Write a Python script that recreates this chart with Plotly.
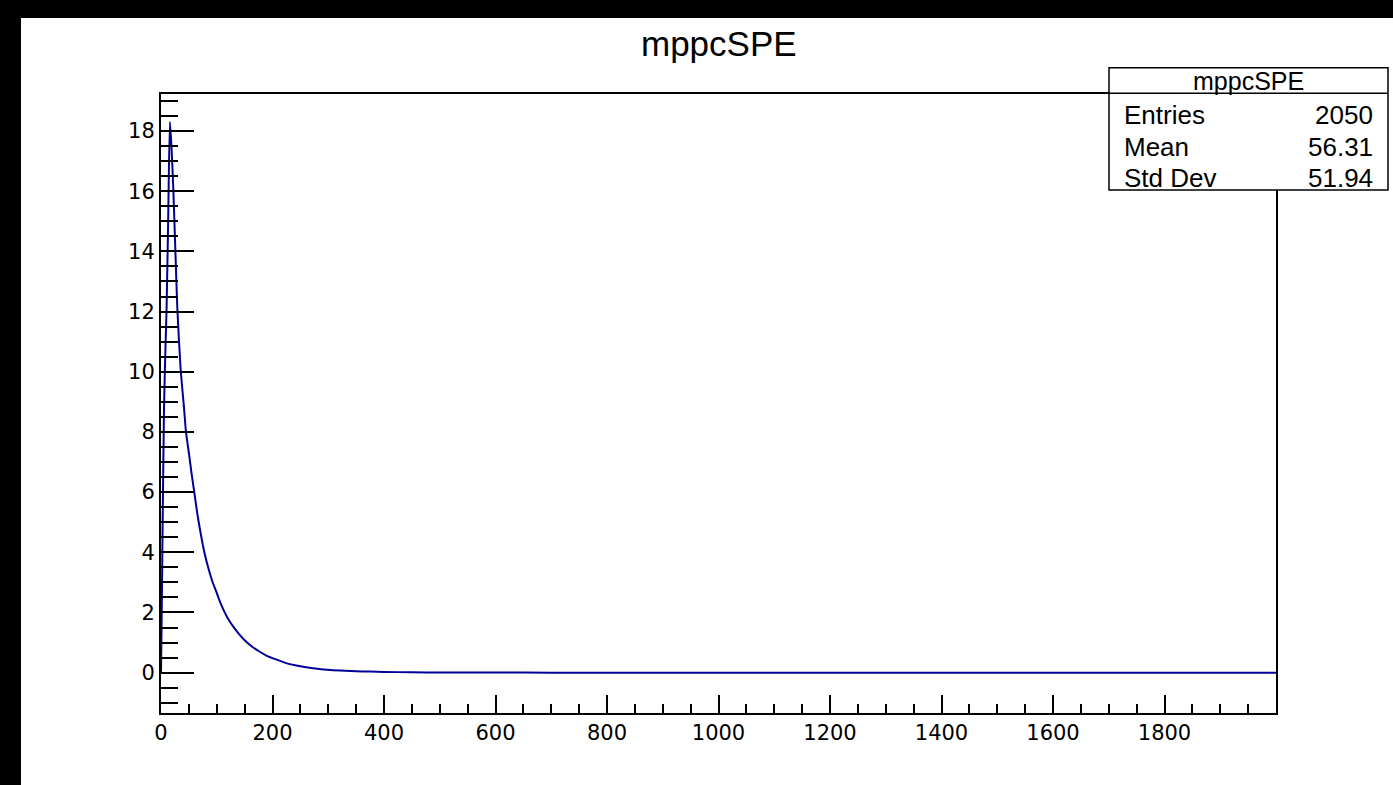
import plotly.graph_objects as go

# mppcSPE histogram, sampled along the drawn curve
bin_x = [0, 1, 2.4, 5.4, 8, 10, 13, 16, 19, 22, 26, 29.3, 35.2, 41.3, 44.8,
         50, 55, 59.7, 65, 70, 77.7, 85, 92, 100, 107, 113.6, 120, 130, 140,
         150, 163, 175, 190, 205, 226, 245, 260, 280, 304, 330, 350, 375, 400,
         450, 500, 600, 700, 800, 1000, 1400, 2000]
bin_y = [0, 1.5, 4.0, 8.8, 10.8, 12.1, 15.2, 18.3, 17.4, 16.1, 13.9, 12.1, 10.1, 8.8, 8.0,
         7.3, 6.6, 6.0, 5.3, 4.75, 4.0, 3.47, 3.04, 2.65, 2.3, 2.03, 1.80, 1.52, 1.28,
         1.08, 0.87, 0.72, 0.56, 0.45, 0.31, 0.23, 0.18, 0.13, 0.09, 0.065, 0.05, 0.035, 0.025,
         0.013, 0.008, 0.003, 0.001, 0.0, 0.0, 0.0, 0.0]

hist_name = "mppcSPE"
stat_labels = ["Entries", "Mean", "Std Dev"]
stat_values = ["2050", "56.31", "51.94"]

x_tick_vals = [0, 200, 400, 600, 800, 1000, 1200, 1400, 1600, 1800]

W, H = 1393, 785
L, R, T, B = 161, 117, 94, 72
PW, PH = W - L - R, H - T - B


def px(xp):
    return (xp - L) / PW


def py(yp):
    return (H - B - yp) / PH


FONT = "Liberation Sans, Arial, Helvetica, sans-serif"
TICK_FONT = "DejaVu Sans, Liberation Sans, sans-serif"
LINE_BLUE = "#000099"

fig = go.Figure()
fig.add_trace(go.Scatter(x=bin_x, y=bin_y, mode="lines",
                         line=dict(color=LINE_BLUE, width=2, shape="spline", smoothing=0.6),
                         showlegend=False, hoverinfo="x+y"))

shapes = [
    # dark canvas edges
    dict(type="rect", xref="paper", yref="paper", x0=px(0), x1=px(21),
         y0=py(H), y1=py(0), fillcolor="black", line_width=0, layer="above"),
    dict(type="rect", xref="paper", yref="paper", x0=px(0), x1=px(W),
         y0=py(18), y1=py(0), fillcolor="black", line_width=0, layer="above"),
    # statistics box
    dict(type="rect", xref="paper", yref="paper", x0=px(1109), x1=px(1388),
         y0=py(190), y1=py(67.7), fillcolor="white",
         line=dict(color="black", width=1.5), layer="above"),
    dict(type="line", xref="paper", yref="paper", x0=px(1109), x1=px(1388),
         y0=py(93.3), y1=py(93.3), line=dict(color="black", width=1.5), layer="above"),
]

annotations = [
    dict(text=hist_name, xref="paper", yref="paper", x=px(718.5), y=py(43),
         xanchor="center", yanchor="middle", showarrow=False,
         font=dict(family=FONT, size=35, color="black")),
    dict(text=hist_name, xref="paper", yref="paper", x=px(1248), y=py(81),
         xanchor="center", yanchor="middle", showarrow=False,
         font=dict(family=FONT, size=25, color="black")),
]
row_y = [115, 147, 178]
for lab, val, yy in zip(stat_labels, stat_values, row_y):
    annotations.append(dict(text=lab, xref="paper", yref="paper", x=px(1122), y=py(yy),
                            xanchor="left", yanchor="middle", showarrow=False,
                            font=dict(family=FONT, size=26, color="black")))
    annotations.append(dict(text=val, xref="paper", yref="paper", x=px(1375), y=py(yy),
                            xanchor="right", yanchor="middle", showarrow=False,
                            font=dict(family=FONT, size=26, color="black")))

fig.update_layout(
    width=W, height=H,
    margin=dict(l=L, r=R, t=T, b=B, pad=0),
    paper_bgcolor="white", plot_bgcolor="white",
    shapes=shapes, annotations=annotations,
    showlegend=False,
    xaxis=dict(range=[0, 2000], tickmode="array", tickvals=x_tick_vals,
               ticks="inside", ticklen=18, tickwidth=2, tickcolor="black",
               showgrid=False, zeroline=False,
               showline=True, linecolor="black", linewidth=2, mirror=True,
               tickfont=dict(family=TICK_FONT, size=21, color="black"),
               minor=dict(tickmode="linear", tick0=0, dtick=50, ticks="inside",
                          ticklen=9, tickwidth=2, tickcolor="black", showgrid=False)),
    yaxis=dict(range=[-1.34, 19.23], tickmode="linear", tick0=0, dtick=2,
               ticks="inside", ticklen=33, tickwidth=2, tickcolor="black",
               showgrid=False, zeroline=False,
               showline=True, linecolor="black", linewidth=2, mirror=True,
               tickfont=dict(family=TICK_FONT, size=21, color="black"),
               minor=dict(tickmode="linear", tick0=0, dtick=0.5, ticks="inside",
                          ticklen=17, tickwidth=2, tickcolor="black", showgrid=False)),
)

fig.write_html("out.html")
